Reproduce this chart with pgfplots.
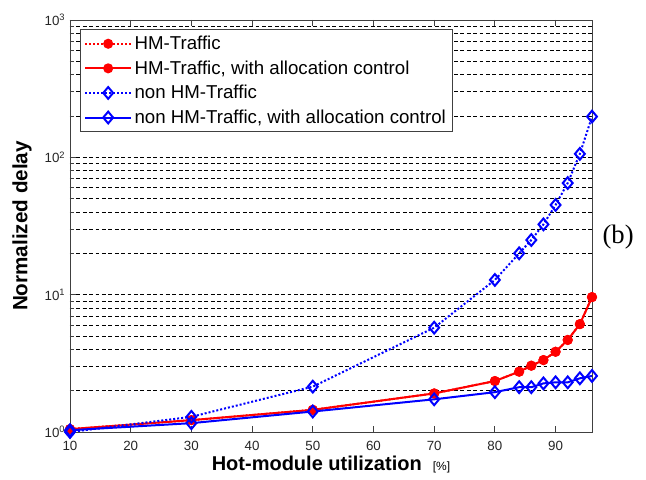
\documentclass[border=0pt]{standalone}
\usepackage{pgfplots}
\pgfplotsset{compat=1.18}
\usepackage{fontspec}
\setmainfont{Liberation Sans}
\newfontfamily\seriffont{Liberation Serif}
\definecolor{mred}{RGB}{255,0,0}
\definecolor{mblue}{RGB}{0,0,255}
\pgfplotstableread{
x hm hmc nhm nhmc
10 1.05 1.05 1.00 1.03
30 1.22 1.22 1.29 1.16
50 1.45 1.45 2.14 1.41
70 1.91 1.91 5.75 1.73
80 2.35 2.35 12.8 1.95
84 2.75 2.75 20.0 2.12
86 3.04 3.04 25.0 2.12
88 3.34 3.34 32.5 2.26
90 3.84 3.84 45.0 2.30
92 4.68 4.68 65.0 2.30
94 6.10 6.10 106 2.46
96 9.60 9.60 198 2.56
}\datatable
\begin{document}
\begin{tikzpicture}
\begin{semilogyaxis}[
  scale only axis,
  width=391.5pt, height=309pt,
  xmin=10, xmax=96, ymin=1, ymax=1000,
  xtick={10,20,...,90},
  ytick={1,10,100,1000},
  yticklabels={10\textsuperscript{0},10\textsuperscript{1},10\textsuperscript{2},10\textsuperscript{3}},
  /pgf/number format/assume math mode=true,
  tick align=inside,
  xtick pos=both, ytick pos=left,
  major tick length=4.5pt, minor tick length=3pt,
  axis line style={black!75, line width=0.6pt},
  every tick/.style={black!75, line width=0.6pt},
  tick label style={font=\fontsize{10pt}{11pt}\selectfont, text=black!85},
  xticklabel style={yshift=-3pt},
  ymajorgrids=true, yminorgrids=true,
  major grid style={black, line width=0.5pt, dash pattern=on 2.8pt off 2pt},
  minor grid style={black, line width=0.5pt, dash pattern=on 2.8pt off 2pt},
  xlabel={\textbf{Hot-module utilization}\ \ {\fontsize{9pt}{10pt}\selectfont [\%]}},
  xlabel style={font=\fontsize{15pt}{18pt}\selectfont, at={(axis description cs:0.5,-0.078)}, anchor=center},
  ylabel={\textbf{Normalized delay}},
  ylabel style={font=\fontsize{15.5pt}{18pt}\selectfont, at={(axis description cs:-0.092,0.5)}, anchor=center},
  clip=false,
  legend cell align=left,
  legend style={at={(axis description cs:0.0192,0.978)}, anchor=north west,
    draw=black!75, line width=0.6pt, fill=white,
    font=\fontsize{14pt}{16pt}\selectfont,
    nodes={inner ysep=3.4pt}, inner xsep=3pt, inner ysep=1.5pt},
  legend image code/.code={\draw[mark repeat=2,mark phase=2,#1] plot coordinates {(0cm,0cm)(0.6cm,0cm)(1.2cm,0cm)};},
]
\addplot[mred, line width=1.5pt, dash pattern=on 1.5pt off 1.5pt, mark=*, mark size=3pt, mark options={solid}] table[x=x,y=hm] {\datatable};
\addlegendentry{HM-Traffic}
\addplot[mred, line width=1.5pt, mark=*, mark size=3pt, mark options={solid}] table[x=x,y=hmc] {\datatable};
\addlegendentry{HM-Traffic, with allocation control}
\addplot[mblue, line width=1.5pt, dash pattern=on 1.5pt off 1.5pt, mark=diamond, mark size=4.4pt, mark options={solid, fill=none, xscale=1.12}] table[x=x,y=nhm] {\datatable};
\addlegendentry{non HM-Traffic}
\addplot[mblue, line width=1.5pt, mark=diamond, mark size=4.4pt, mark options={solid, fill=none, xscale=1.12}] table[x=x,y=nhmc] {\datatable};
\addlegendentry{non HM-Traffic, with allocation control}
\node[font=\seriffont\fontsize{20pt}{22pt}\selectfont, anchor=center] at (rel axis cs:1.05,0.473) {(b)};
\end{semilogyaxis}
\pgfresetboundingbox
\path (current axis.south west) ++(-52.5pt,-35.25pt) rectangle ++(484.5pt,359.25pt);
\end{tikzpicture}
\end{document}
